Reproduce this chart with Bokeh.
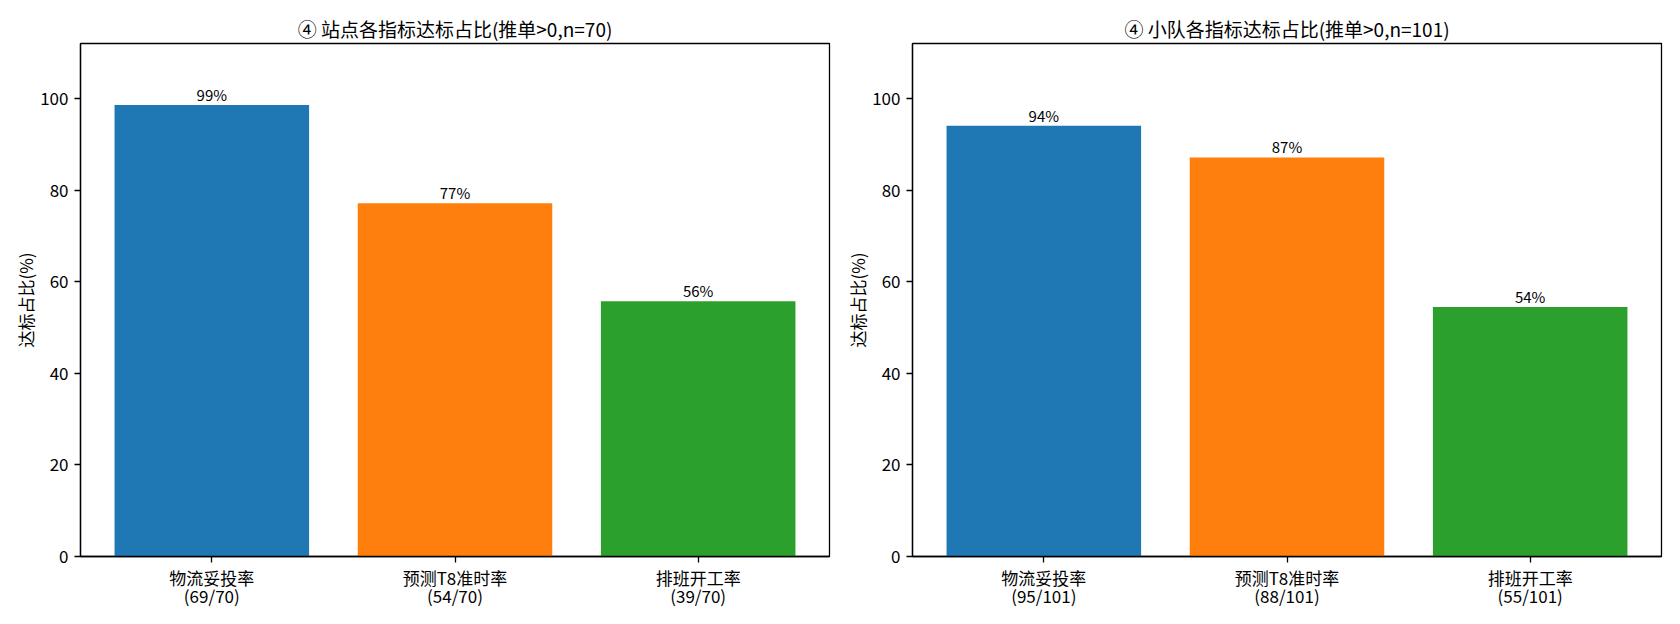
from bokeh.plotting import figure
from bokeh.layouts import row
from bokeh.models import Range1d, FixedTicker, LinearAxis
from bokeh.embed import file_html
from bokeh.resources import INLINE

# ---- data ----
categories = ["物流妥投率", "预测T8准时率", "排班开工率"]
station_hits = [69, 54, 39]
station_n = 70
team_hits = [95, 88, 55]
team_n = 101
colors = ["#1f77b4", "#ff7f0e", "#2ca02c"]
titles = ["④ 站点各指标达标占比(推单>0,n=70)", "④ 小队各指标达标占比(推单>0,n=101)"]
y_ticks = [0, 20, 40, 60, 80, 100]

FONT = "Noto Sans CJK SC"


def style_axis(ax):
    ax.axis_line_color = "black"
    ax.axis_line_width = 1.3
    ax.major_tick_line_color = "black"
    ax.major_tick_line_width = 1.3
    ax.major_tick_in = 0
    ax.major_tick_out = 6
    ax.minor_tick_line_color = None
    ax.major_label_text_font = FONT
    ax.major_label_text_font_size = "17px"
    ax.major_label_text_color = "black"
    ax.major_label_standoff = 6


def make_plot(title, hits, n):
    pct = [h / n * 100 for h in hits]
    xs = list(range(len(categories)))
    p = figure(width=832, height=616, output_backend="svg", toolbar_location=None,
               x_range=Range1d(-0.54, 2.54), y_range=Range1d(0, 112),
               min_border_left=80, min_border_right=3, min_border_top=43,
               min_border_bottom=60, title=title)
    p.vbar(x=xs, top=pct, width=0.8, color=colors, line_color=None)
    p.text(x=xs, y=pct, text=[f"{round(v)}%" for v in pct],
           text_align="center", text_baseline="bottom",
           text_font={"value": FONT}, text_font_size={"value": "15px"}, text_color="black")

    p.title.text_font = FONT
    p.title.text_font_size = "19px"
    p.title.text_font_style = "normal"
    p.title.align = "center"
    p.title.text_color = "black"
    p.title.standoff = 4

    p.xgrid.visible = False
    p.ygrid.visible = False
    p.outline_line_color = "black"
    p.outline_line_alpha = 1
    p.outline_line_width = 1.3

    style_axis(p.xaxis[0])
    style_axis(p.yaxis[0])

    p.yaxis.ticker = FixedTicker(ticks=y_ticks)
    p.yaxis.axis_label = "达标占比(%)"
    p.yaxis.axis_label_text_font = FONT
    p.yaxis.axis_label_text_font_size = "17px"
    p.yaxis.axis_label_text_font_style = "normal"
    p.yaxis.axis_label_text_color = "black"
    p.yaxis.axis_label_standoff = -1

    p.xaxis.ticker = FixedTicker(ticks=xs)
    p.xaxis.major_label_overrides = {i: c for i, c in enumerate(categories)}
    p.xaxis.major_label_standoff = 2

    ax2 = LinearAxis(ticker=FixedTicker(ticks=xs),
                     major_label_overrides={i: f"({h}/{n})" for i, h in enumerate(hits)})
    style_axis(ax2)
    ax2.axis_line_color = None
    ax2.major_tick_line_color = None
    ax2.major_tick_out = 0
    ax2.major_label_standoff = -10
    p.add_layout(ax2, "below")
    return p


p1 = make_plot(titles[0], station_hits, station_n)
p2 = make_plot(titles[1], team_hits, team_n)
p = row(p1, p2)

open("out.html", "w").write(file_html(p, INLINE))
